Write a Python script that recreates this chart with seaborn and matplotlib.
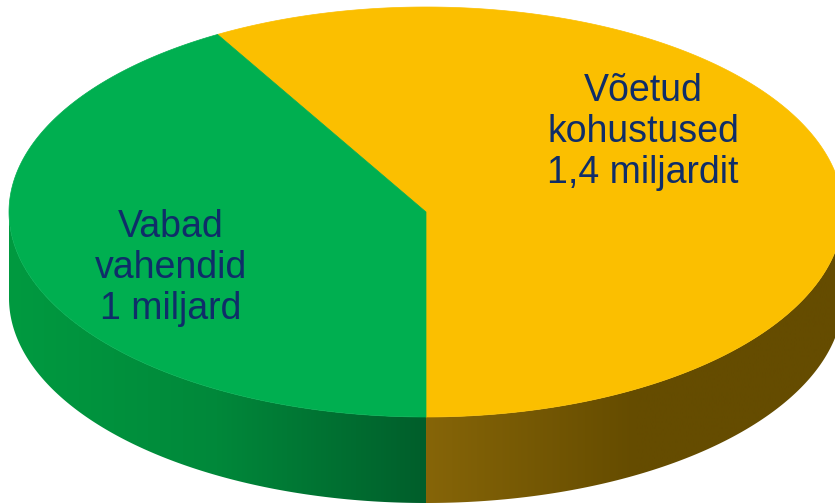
import numpy as np
import matplotlib
matplotlib.use("Agg")
import matplotlib.pyplot as plt
import seaborn as sns
from matplotlib.patches import Polygon
from matplotlib.colors import LinearSegmentedColormap

# ---- data ----
categories = ["Võetud kohustused", "Vabad vahendid"]
values = [1.4, 1.0]
labels = ["Võetud\nkohustused\n1,4 miljardit", "Vabad\nvahendid\n1 miljard"]
top_colors = ["#FBBF00", "#00AF50"]
side_grad = [["#866508", "#654C00", "#654C00"], ["#009A40", "#00883A", "#005E2B"]]

sns.set_theme(style="white")
plt.rcParams['font.family'] = ['Liberation Sans', 'DejaVu Sans']
palette = sns.color_palette(top_colors)

W, H = 835, 503
fig = plt.figure(figsize=(W / 100, H / 100), dpi=100)
ax = fig.add_axes([0, 0, 1, 1])
ax.set_xlim(0, W)
ax.set_ylim(H, 0)
ax.axis("off")

# geometry (layout)
cx, cy, a, b, depth = 426, 212, 417, 205, 86
start = -90.0

def pt(t, dy=0.0):
    r = np.radians(t)
    return cx + a * np.cos(r), cy - b * np.sin(r) + dy

total = sum(values)
angles = []
cur = start
for v in values:
    span = 360.0 * v / total
    angles.append((cur, cur + span))
    cur += span

# sides (front visible part: 180..360 deg)
for i, (t1, t2) in enumerate(angles):
    segs = []
    for off in (-360, 0, 360):
        lo, hi = max(t1 + off, 180), min(t2 + off, 360)
        if hi > lo:
            segs.append((lo, hi))
    for lo, hi in segs:
        ts = np.linspace(lo, hi, 200)
        top = [pt(t) for t in ts]
        bot = [pt(t, depth) for t in ts[::-1]]
        poly = Polygon(top + bot, closed=True, facecolor="none", edgecolor="none")
        ax.add_patch(poly)
        xs = [p[0] for p in top]
        x0, x1 = min(xs), max(xs)
        cmap = LinearSegmentedColormap.from_list("g%d" % i, side_grad[i])
        grad = np.linspace(0, 1, 256)[None, :]
        im = ax.imshow(grad, extent=(x0, x1, H, 0), cmap=cmap, aspect="auto",
                       interpolation="bilinear", zorder=1)
        im.set_clip_path(poly)

# top faces
for i, (t1, t2) in enumerate(angles):
    ts = np.linspace(t1, t2, 400)
    verts = [(cx, cy)] + [pt(t) for t in ts]
    ax.add_patch(Polygon(verts, closed=True, facecolor=palette[i],
                         edgecolor=palette[i], linewidth=0.5, zorder=2))

# labels
label_pos = [(643, 132), (171, 268)]
for lab, (x, y) in zip(labels, label_pos):
    ax.text(x, y, lab, ha="center", va="center", fontsize=27,
            color="#0F2D69", linespacing=1.17, zorder=3)

fig.savefig("out.png", dpi=100)
